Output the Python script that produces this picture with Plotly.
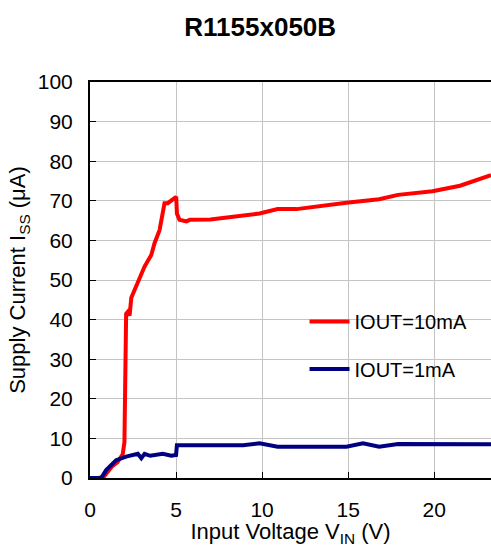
import plotly.graph_objects as go

vin_10mA = [0, 0.5, 0.8, 1.0, 1.3, 1.6, 1.9, 2.0, 2.05, 2.1, 2.2, 2.3, 2.4, 2.7, 3.0, 3.17, 3.56,
            3.75, 4.04, 4.23, 4.33, 4.52, 4.91, 5.01, 5.05, 5.2, 5.6, 5.8, 7.0, 9.85, 10.9, 12.0,
            14.9, 16.8, 17.9, 19.9, 21.5, 23.3]
iss_10mA = [0, 0, 0.3, 1.5, 3.0, 4.0, 6.0, 9.0, 20.0, 41.5, 42.0, 41.0, 45.5, 48.5, 51.5, 53.4, 56.3,
            59.3, 62.6, 66.8, 69.4, 69.4, 70.6, 71.0, 66.8, 65.2, 64.8, 65.2, 65.3, 66.8, 67.9, 67.9,
            69.5, 70.4, 71.5, 72.4, 73.8, 76.5]

vin_1mA = [0, 0.65, 0.94, 1.23, 1.52, 2.1, 2.78, 2.98, 3.17, 3.5, 3.85, 4.23, 4.72, 4.91, 5.0,
           5.05, 8.9, 9.85, 10.9, 14.9, 15.86, 16.8, 17.9, 23.3]
iss_1mA = [0, 0, 2.0, 3.3, 4.5, 5.4, 6.1, 5.0, 6.1, 5.6, 5.8, 6.1, 5.6, 5.8, 5.8,
           8.3, 8.3, 8.75, 7.9, 7.9, 8.75, 7.9, 8.6, 8.5]

x_ticks = [0, 5, 10, 15, 20]
y_ticks = [0, 10, 20, 30, 40, 50, 60, 70, 80, 90, 100]

FONT = "Liberation Sans, Arial, sans-serif"

fig = go.Figure()
fig.add_trace(go.Scatter(x=vin_10mA, y=iss_10mA, mode="lines", name="IOUT=10mA",
                         line=dict(color="#FF0000", width=4), legend="legend", showlegend=True))
fig.add_trace(go.Scatter(x=vin_1mA, y=iss_1mA, mode="lines", name="IOUT=1mA",
                         line=dict(color="#000080", width=4), legend="legend2", showlegend=True))

legend_common = dict(bgcolor="rgba(0,0,0,0)", borderwidth=0,
                     font=dict(family=FONT, size=20, color="#000"),
                     xanchor="left", yanchor="middle", itemwidth=40)

fig.update_layout(
    width=491, height=547,
    margin=dict(l=90, r=0, t=82, b=69, autoexpand=False),
    showlegend=True,
    paper_bgcolor="white", plot_bgcolor="white",
    title=dict(text="<b>R1155x050B</b>", x=0.53, xanchor="center", y=0.95, yanchor="middle",
               font=dict(family=FONT, size=26, color="#000")),
    font=dict(family=FONT, size=21, color="#000"),
    legend=dict(x=0.535, y=0.395, **legend_common),
    legend2=dict(x=0.535, y=0.275, **legend_common),
    xaxis=dict(range=[0, 23.3], tickvals=x_ticks, showgrid=True, gridcolor="#C4C4C4", gridwidth=1,
               showline=True, linecolor="#000", linewidth=2, mirror=True, automargin=False,
               ticks="inside", ticklen=6, tickcolor="#000", zeroline=False,
               tickfont=dict(family=FONT, size=21), ticklabelstandoff=12,
               title=dict(text="Input Voltage V<sub>IN</sub> (V)", standoff=2,
                          font=dict(family=FONT, size=22))),
    yaxis=dict(range=[0, 100], tickvals=y_ticks, showgrid=True, gridcolor="#C4C4C4", gridwidth=1,
               showline=True, linecolor="#000", linewidth=2, mirror=False, automargin=False,
               ticks="inside", ticklen=6, tickcolor="#000", zeroline=False,
               tickfont=dict(family=FONT, size=21), ticklabelstandoff=11,
               title=dict(text="Supply Current I<sub>SS</sub> (μA)", standoff=6,
                          font=dict(family=FONT, size=22))),
)

fig.write_html("out.html", config={"displayModeBar": False},
               post_script="document.body.style.margin='0';document.body.style.overflow='hidden';")
